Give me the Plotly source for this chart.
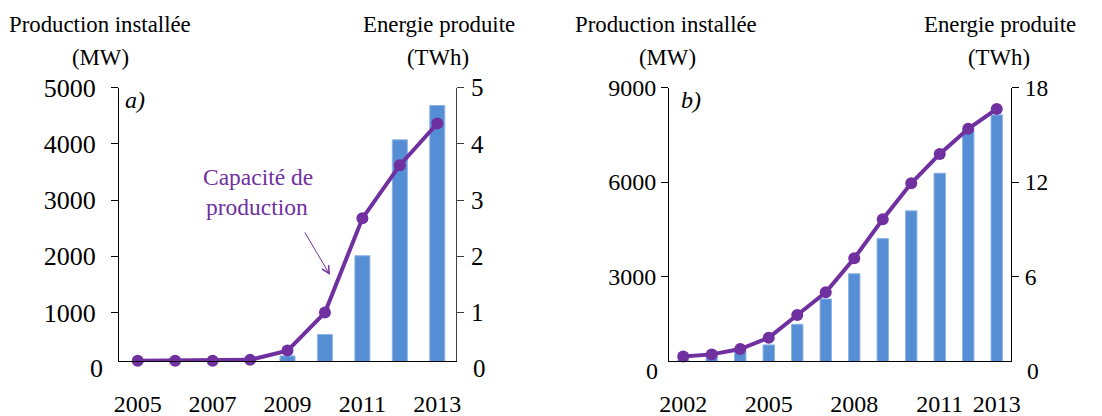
import plotly.graph_objects as go

# ---------------- data ----------------
years_a = [2005, 2006, 2007, 2008, 2009, 2010, 2011, 2012, 2013]
capacity_a_mw = [145, 145, 145, 160, 325, 1000, 2675, 3620, 4360]
energy_a_twh = [0, 0, 0, 0, 0.23, 0.61, 2.01, 4.07, 4.68]

years_b = [2002, 2003, 2004, 2005, 2006, 2007, 2008, 2009, 2010, 2011, 2012, 2013]
capacity_b_mw = [460, 530, 700, 1060, 1780, 2500, 3580, 4820, 5960, 6890, 7690, 8320]
energy_b_twh = [0.7, 0.95, 1.3, 1.66, 2.97, 4.58, 6.18, 8.41, 10.17, 12.56, 15.3, 16.26]

ticks_a_x = [2005, 2007, 2009, 2011, 2013]
ticks_a_mw = [1000, 2000, 3000, 4000, 5000]
ticks_a_twh = [1, 2, 3, 4, 5]
ticks_b_x = [2002, 2005, 2008, 2011, 2013]
ticks_b_mw = [3000, 6000, 9000]
ticks_b_twh = [6, 12, 18]

title_left = ["Production installée", "(MW)"]
title_right = ["Energie produite", "(TWh)"]
arrow_label = ["Capacité de", "production"]

# ---------------- styling / layout helpers ----------------
OFF = 8                 # page body margin of the written html
W, H = 1102 - OFF, 416 - OFF
FONT = "Liberation Serif"
PURPLE = "#7030A0"
BLUE = "#558ED5"


def px(x):
    return (x - OFF) / W


def py(y):
    return 1 - (y - OFF) / H


range_a_mw = [140, 5000]
range_a_twh = [0.14, 5.0]
range_b_mw = [320, 9000]
range_b_twh = [0.64, 18]
range_a_x = [2004.5, 2013.5]
range_b_x = [2001.5, 2013.5]

dom_a = [px(119), px(456)]
dom_b = [px(669), px(1011)]
dom_y = [py(361), py(87.5)]

fig = go.Figure()

bar_style = dict(color=BLUE, line=dict(color="#8EB4E3", width=1))
line_style = dict(color=PURPLE, width=4)
marker_style = dict(size=12, color=PURPLE)

fig.add_trace(go.Bar(x=years_a, y=energy_a_twh, xaxis="x", yaxis="y", width=0.4,
                     marker=bar_style, showlegend=False))
fig.add_trace(go.Scatter(x=years_a, y=capacity_a_mw, xaxis="x", yaxis="y2",
                         mode="lines+markers", line=line_style, marker=marker_style,
                         cliponaxis=False, showlegend=False))
fig.add_trace(go.Bar(x=years_b, y=energy_b_twh, xaxis="x2", yaxis="y3", width=0.4,
                     marker=bar_style, showlegend=False))
fig.add_trace(go.Scatter(x=years_b, y=capacity_b_mw, xaxis="x2", yaxis="y4",
                         mode="lines+markers", line=line_style, marker=marker_style,
                         cliponaxis=False, showlegend=False))


def xax(domain, rng, ticks, anchor):
    return dict(domain=domain, range=rng, tickvals=ticks, anchor=anchor,
                showline=True, linecolor="black", linewidth=1, ticks="",
                showgrid=False, zeroline=False, automargin=False,
                tickfont=dict(family=FONT, size=24, color="black"),
                ticklabelstandoff=21)


def yax(rng, ticks, side, anchor, size, standoff, color="black", **kw):
    d = dict(range=rng, tickvals=ticks, side=side, anchor=anchor,
             showline=True, linecolor=color, linewidth=1,
             ticks="outside", ticklen=7, tickcolor=color, tickwidth=1,
             showgrid=False, zeroline=False, automargin=False,
             tickfont=dict(family=FONT, size=size, color="black"),
             ticklabelstandoff=standoff)
    d.update(kw)
    return d


fig.update_layout(
    width=W, height=H, autosize=False,
    margin=dict(l=0, r=0, t=0, b=0, pad=0),
    paper_bgcolor="white", plot_bgcolor="white",
    showlegend=False, barmode="overlay",
    xaxis=xax(dom_a, range_a_x, ticks_a_x, "y"),
    yaxis=yax(range_a_twh, ticks_a_twh, "right", "x", 25, 2, color="#404040", domain=dom_y),
    yaxis2=yax(range_a_mw, ticks_a_mw, "left", "x", 26, 10, overlaying="y"),
    xaxis2=xax(dom_b, range_b_x, ticks_b_x, "y3"),
    yaxis3=yax(range_b_twh, ticks_b_twh, "right", "x2", 23.5, 1, domain=dom_y),
    yaxis4=yax(range_b_mw, ticks_b_mw, "left", "x2", 24, 0, overlaying="y3"),
)

ann = []


def text(x, y, s, size=22.8, color="black", xanchor="center"):
    ann.append(dict(x=px(x), y=py(y), xref="paper", yref="paper", text=s,
                    showarrow=False, xanchor=xanchor, yanchor="middle",
                    font=dict(family=FONT, size=size, color=color)))


# axis titles
text(99.5, 25, title_left[0]); text(100, 57, title_left[1])
text(438.5, 25, title_right[0]); text(437.5, 57, title_right[1])
text(666, 25, title_left[0]); text(667, 57, title_left[1])
text(1000, 25, title_right[0]); text(999, 57, title_right[1])

# panel labels
text(135, 100, "<i>a)</i>", size=24)
text(691, 100, "<i>b)</i>", size=24)


# zero labels (below the x axis line), positioned from the axis ranges
def zero_y(rng):
    frac = (0 - rng[0]) / (rng[1] - rng[0])
    return dom_y[0] + frac * (dom_y[1] - dom_y[0])


for xpos, anchor, rng, size in [(dom_a[0] - 14 / W, "right", range_a_mw, 26),
                                (dom_a[1] + 15 / W, "left", range_a_twh, 25),
                                (dom_b[0] - 9 / W, "right", range_b_mw, 24),
                                (dom_b[1] + 14 / W, "left", range_b_twh, 23.5)]:
    ann.append(dict(x=xpos, y=zero_y(rng), xref="paper", yref="paper", text="0",
                    showarrow=False, xanchor=anchor, yanchor="middle",
                    font=dict(family=FONT, size=size, color="black")))

# capacity label + arrow
text(257.5, 177, arrow_label[0], size=23.5, color=PURPLE)
text(257, 207, arrow_label[1], size=23.5, color=PURPLE)
ann.append(dict(x=px(330), y=py(275), xref="paper", yref="paper", text="",
                showarrow=True, ax=-26, ay=-44, arrowhead=5, arrowsize=1.5,
                arrowwidth=1, arrowcolor=PURPLE, standoff=0, startstandoff=0))

fig.update_layout(annotations=ann)

fig.write_html("out.html")
